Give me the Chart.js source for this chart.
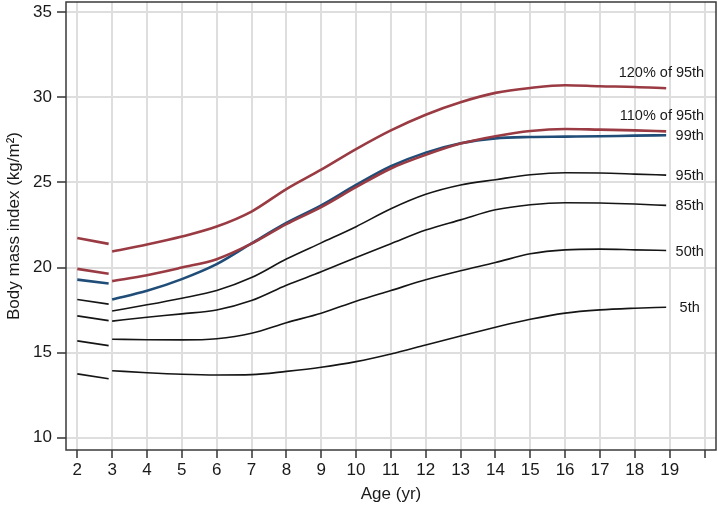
<!DOCTYPE html>
<html>
<head>
<meta charset="utf-8">
<script src="https://cdn.jsdelivr.net/npm/chart.js@4.4.0/dist/chart.umd.min.js"></script>
<style>
  html, body { margin: 0; padding: 0; background: #fff; }
  canvas { display: block; }
</style>
</head>
<body>
<canvas id="myChart" width="718" height="514"></canvas>
<script>
// ages (yr) - first short piece 2 to <3, then 3 onwards
var ageEarly = [2, 2.9];
var ageLate = [3, 4, 5, 6, 7, 8, 9, 10, 11, 12, 13, 14, 15, 16, 17, 18, 18.9];

// BMI values
var p120Early = [21.73, 21.39];
var p120Late = [20.94, 21.35, 21.82, 22.41, 23.29, 24.61, 25.75, 26.96, 28.06, 28.98, 29.71, 30.26, 30.55, 30.71, 30.65, 30.61, 30.53];
var p110Early = [19.92, 19.63];
var p110Late = [19.2, 19.55, 20.0, 20.49, 21.4, 22.55, 23.55, 24.72, 25.82, 26.62, 27.28, 27.71, 28.02, 28.14, 28.1, 28.06, 28.0];
var p99Early = [19.29, 19.06];
var p99Late = [18.12, 18.63, 19.32, 20.2, 21.42, 22.62, 23.65, 24.85, 25.95, 26.75, 27.3, 27.59, 27.67, 27.69, 27.71, 27.75, 27.77];
var p95Early = [18.12, 17.85];
var p95Late = [17.45, 17.81, 18.2, 18.65, 19.41, 20.5, 21.45, 22.4, 23.45, 24.3, 24.85, 25.16, 25.45, 25.57, 25.55, 25.49, 25.43];
var p85Early = [17.16, 16.88];
var p85Late = [16.85, 17.08, 17.28, 17.51, 18.06, 18.96, 19.75, 20.59, 21.4, 22.2, 22.8, 23.39, 23.69, 23.81, 23.79, 23.73, 23.65];
var p50Early = [15.69, 15.41];
var p50Late = [15.79, 15.76, 15.75, 15.82, 16.14, 16.76, 17.32, 18.02, 18.65, 19.28, 19.81, 20.29, 20.81, 21.04, 21.08, 21.04, 21.0];
var p5Early = [13.75, 13.47];
var p5Late = [13.94, 13.82, 13.73, 13.69, 13.71, 13.9, 14.14, 14.47, 14.92, 15.45, 15.98, 16.49, 16.96, 17.32, 17.51, 17.61, 17.67];

var curveNames = ['120% of 95th', '110% of 95th', '99th', '95th', '85th', '50th', '5th'];

// axis ticks
var xTicks = [2, 3, 4, 5, 6, 7, 8, 9, 10, 11, 12, 13, 14, 15, 16, 17, 18, 19, 20];
var xTickLabels = ['2', '3', '4', '5', '6', '7', '8', '9', '10', '11', '12', '13', '14', '15', '16', '17', '18', '19', ''];
var yTicks = [10, 15, 20, 25, 30, 35];

var RED = '#9a3b43';
var BLUE = '#1f4d78';
var BLACK = '#151515';

function pts(xs, ys) {
    var out = [];
    for (var i = 0; i < xs.length; i++) {
        out.push({x: xs[i], y: ys[i]});
    }
    return out;
}

var curves = [
    {name: curveNames[0], early: p120Early, late: p120Late, color: RED, width: 2.6, order: 0},
    {name: curveNames[1], early: p110Early, late: p110Late, color: RED, width: 2.6, order: 0},
    {name: curveNames[2], early: p99Early, late: p99Late, color: BLUE, width: 2.6, order: 1},
    {name: curveNames[3], early: p95Early, late: p95Late, color: BLACK, width: 1.6, order: 2},
    {name: curveNames[4], early: p85Early, late: p85Late, color: BLACK, width: 1.6, order: 2},
    {name: curveNames[5], early: p50Early, late: p50Late, color: BLACK, width: 1.6, order: 2},
    {name: curveNames[6], early: p5Early, late: p5Late, color: BLACK, width: 1.6, order: 2}
];

var datasets = [];
curves.forEach(function (c) {
    datasets.push({label: c.name, data: pts(ageEarly, c.early), borderColor: c.color,
        borderWidth: c.width, pointRadius: 0, tension: 0, order: c.order, fill: false});
    datasets.push({label: c.name, data: pts(ageLate, c.late), borderColor: c.color,
        borderWidth: c.width, pointRadius: 0, cubicInterpolationMode: 'monotone', order: c.order,
        fill: false, isLate: true});
});

// frame round the plot + curve names at the right
var extras = {
    id: 'extras',
    afterDraw: function (chart) {
        var ctx = chart.ctx;
        var a = chart.chartArea;
        var xs = chart.scales.x;
        var ys = chart.scales.y;
        ctx.save();
        ctx.strokeStyle = '#3a3a3a';
        ctx.lineWidth = 1.5;
        ctx.strokeRect(a.left, a.top, a.right - a.left, a.bottom - a.top);

        ctx.fillStyle = '#1a1a1a';
        ctx.font = '14.5px "Liberation Sans", Arial, sans-serif';
        ctx.textBaseline = 'middle';
        chart.data.datasets.forEach(function (ds) {
            if (!ds.isLate) return;
            var last = ds.data[ds.data.length - 1];
            var px = xs.getPixelForValue(last.x);
            var py = ys.getPixelForValue(last.y);
            if (ds.label.indexOf('%') >= 0) {
                ctx.textAlign = 'right';
                ctx.fillText(ds.label, px + 38, py - 15);
            } else {
                ctx.textAlign = 'center';
                ctx.fillText(ds.label, px + 23.5, py + 1);
            }
        });
        ctx.restore();
    }
};

var axisFont = {family: '"Liberation Sans", Arial, sans-serif', size: 17};

var ctx = document.getElementById('myChart').getContext('2d');
var chart = new Chart(ctx, {
    type: 'line',
    data: {datasets: datasets},
    options: {
        responsive: false,
        animation: false,
        layout: {padding: {top: 2, right: 2, left: 0, bottom: 0}},
        plugins: {legend: {display: false}, tooltip: {enabled: false}},
        scales: {
            x: {
                type: 'linear',
                min: 1.676,
                max: 20.33,
                afterBuildTicks: function (scale) {
                    scale.ticks = xTicks.map(function (v) { return {value: v}; });
                },
                afterFit: function (scale) {
                    scale.height = 64;
                    scale.paddingLeft = 0;
                    scale.paddingRight = 0;
                },
                ticks: {
                    color: '#1a1a1a',
                    font: axisFont,
                    padding: 2,
                    maxRotation: 0,
                    autoSkip: false,
                    callback: function (v) { return xTickLabels[xTicks.indexOf(v)]; }
                },
                grid: {color: '#dedede', lineWidth: 2, tickColor: '#333', tickWidth: 1.5, tickLength: 8},
                border: {display: false},
                title: {display: true, text: 'Age (yr)', color: '#1a1a1a', font: axisFont, padding: {top: 0, bottom: 9}}
            },
            y: {
                min: 9.28,
                max: 35.6,
                afterBuildTicks: function (scale) {
                    scale.ticks = yTicks.map(function (v) { return {value: v}; });
                },
                afterFit: function (scale) {
                    scale.width = 66;
                    scale.paddingTop = 0;
                    scale.paddingBottom = 0;
                },
                ticks: {color: '#1a1a1a', font: axisFont, padding: 5},
                grid: {color: '#dedede', lineWidth: 2, tickColor: '#333', tickWidth: 1.5, tickLength: 9},
                border: {display: false},
                title: {display: true, text: 'Body mass index (kg/m²)', color: '#1a1a1a', font: axisFont, padding: {top: 4, bottom: 0}}
            }
        }
    },
    plugins: [extras]
});
</script>
</body>
</html>
